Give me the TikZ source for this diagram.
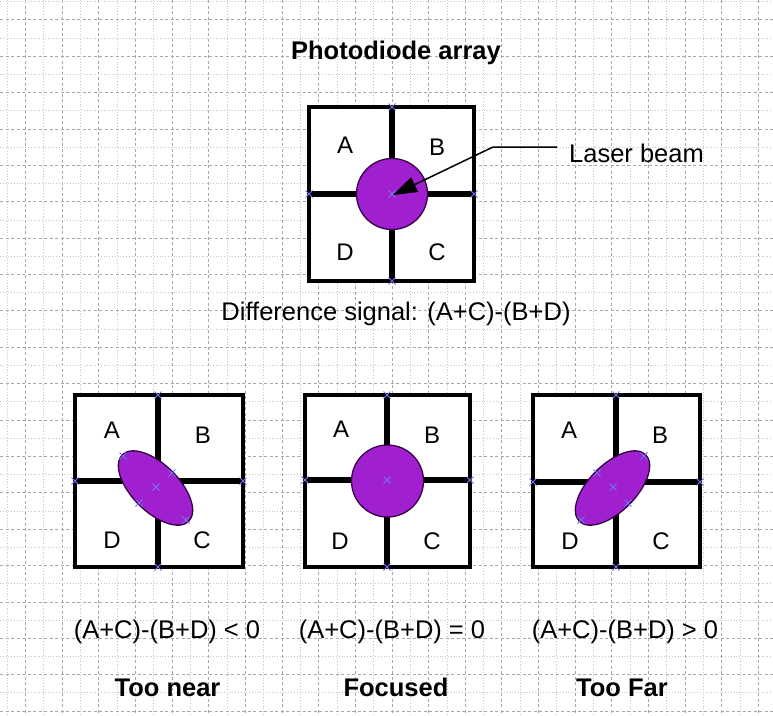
\documentclass[tikz,border=0pt]{standalone}
\usepackage{fontspec}
\setmainfont{Liberation Sans}
\usetikzlibrary{arrows.meta}
\definecolor{spot}{RGB}{160,32,208}
\definecolor{spotline}{RGB}{55,0,70}
\definecolor{hnd}{RGB}{115,115,235}
\definecolor{gridA}{RGB}{168,168,168}
\definecolor{gridB}{RGB}{198,198,198}
\tikzset{
  majorgrid/.style={gridA, line width=0.9pt, dash pattern=on 3pt off 2.5pt},
  minorgrid/.style={gridB, line width=0.9pt, dash pattern=on 1pt off 1.8pt},
  frame/.style={line width=4pt, fill=white, draw=black},
  cross/.style={line width=6.5pt, draw=black},
  spotfill/.style={fill=spot, draw=spotline, line width=1.3pt},
  lab/.style={font=\fontsize{24}{28}\selectfont, anchor=base, inner sep=0pt},
  txt/.style={font=\fontsize{25.5}{30}\selectfont, anchor=base, inner sep=0pt},
  btxt/.style={font=\fontsize{25.5}{30}\selectfont\bfseries, anchor=base, inner sep=0pt},
  hmk/.style={hnd, line width=1pt},
  hmark/.pic={\draw[hmk] (-3.5,-3.5)--(3.5,3.5) (-3.5,3.5)--(3.5,-3.5);},
  leader/.style={line width=1.5pt, -{Triangle[length=24pt,width=16pt]}},
}
\begin{document}
\begin{tikzpicture}[x=1pt,y=-1pt]
\useasboundingbox (0,0) rectangle (773,715);
\fill[white] (0,0) rectangle (773,715);
% background grid
\foreach \k in {0,2,...,40} \draw[minorgrid] ({7.3+18.32*\k},0) -- ({7.3+18.32*\k},715);
\foreach \k in {1,3,...,41} \draw[majorgrid] ({7.3+18.32*\k},0) -- ({7.3+18.32*\k},715);
\foreach \k in {0,2,...,38} \draw[minorgrid] (0,{1.7+18.19*\k}) -- (773,{1.7+18.19*\k});
\foreach \k in {1,3,...,39} \draw[majorgrid] (0,{1.7+18.19*\k}) -- (773,{1.7+18.19*\k});

% ---------- top array ----------
\node[btxt] (title) at (396,59.5) {Photodiode array};
\filldraw[frame] (309,107) rectangle (474,281);
\draw[cross] (392,107) -- (392,281);
\draw[cross] (309,194) -- (474,194);
\draw[spotfill] (392,194) circle[radius=35.5];
\coordinate (tspot) at (393,195);
\node[lab] (tA) at (345,153.5) {A};
\node[lab] (tB) at (437,155.5) {B};
\node[lab] (tD) at (345,260.5) {D};
\node[lab] (tC) at (437,260.5) {C};
\pic at (392,107) {hmark};
\pic at (392,281) {hmark};
\pic at (309,194) {hmark};
\pic at (474,194) {hmark};
\pic at (392,194) {hmark};
\node[txt, anchor=base west] (laser) at (569,162) {Laser beam};
\coordinate (lstart) at (557,147);
\coordinate (lbend) at (493,147);
\draw[leader] (lstart) -- (lbend) -- (tspot);
\node[txt] (diff) at (396,320) {Difference signal: (A+C)-(B+D)};

% ---------- bottom left: too near ----------
\filldraw[frame] (75,395) rectangle (243,567);
\draw[cross] (158,395) -- (158,567);
\draw[cross] (75,481) -- (243,481);
\draw[spotfill, rotate around={-45:(155.5,488)}] (155.5,488) ellipse[x radius=47, y radius=23.5];
\node[lab] (lA) at (112,438.5) {A};
\node[lab] (lB) at (203,443.5) {B};
\node[lab] (lD) at (112,548.5) {D};
\node[lab] (lC) at (202,548.5) {C};
\pic at (158,395) {hmark};
\pic at (158,567) {hmark};
\pic at (75,481) {hmark};
\pic at (243,481) {hmark};
\pic at (123,456) {hmark};
\pic at (172,473) {hmark};
\pic at (156,487) {hmark};
\pic at (139,503) {hmark};
\pic at (186,520) {hmark};
\node[txt] (fl) at (167,638) {(A+C)-(B+D) < 0};
\node[btxt] (nl) at (167.5,696) {Too near};

% ---------- bottom middle: focused ----------
\filldraw[frame] (305,395) rectangle (470,567);
\draw[cross] (387,395) -- (387,567);
\draw[cross] (305,480) -- (470,480);
\draw[spotfill] (387.5,481) circle[radius=36];
\node[lab] (mA) at (341,437.5) {A};
\node[lab] (mB) at (432,443.5) {B};
\node[lab] (mD) at (340,549.5) {D};
\node[lab] (mC) at (432,549.5) {C};
\pic at (387,395) {hmark};
\pic at (387,567) {hmark};
\pic at (305,480) {hmark};
\pic at (470,480) {hmark};
\pic at (387,480) {hmark};
\node[txt] (fm) at (392,638) {(A+C)-(B+D) = 0};
\node[btxt] (nm) at (396,696) {Focused};

% ---------- bottom right: too far ----------
\filldraw[frame] (533,395) rectangle (700,567);
\draw[cross] (616,395) -- (616,567);
\draw[cross] (533,482) -- (700,482);
\draw[spotfill, rotate around={45:(612.5,488)}] (612.5,488) ellipse[x radius=47, y radius=23.5];
\node[lab] (rA) at (569,438.5) {A};
\node[lab] (rB) at (660,443.5) {B};
\node[lab] (rD) at (570,549.5) {D};
\node[lab] (rC) at (661,549.5) {C};
\pic at (616,395) {hmark};
\pic at (616,567) {hmark};
\pic at (533,482) {hmark};
\pic at (700,482) {hmark};
\pic at (644,456) {hmark};
\pic at (597,473) {hmark};
\pic at (613,487) {hmark};
\pic at (628,503) {hmark};
\pic at (581,520) {hmark};
\node[txt] (fr) at (625,638) {(A+C)-(B+D) > 0};
\node[btxt] (nr) at (622,696) {Too Far};
\end{tikzpicture}
\end{document}
